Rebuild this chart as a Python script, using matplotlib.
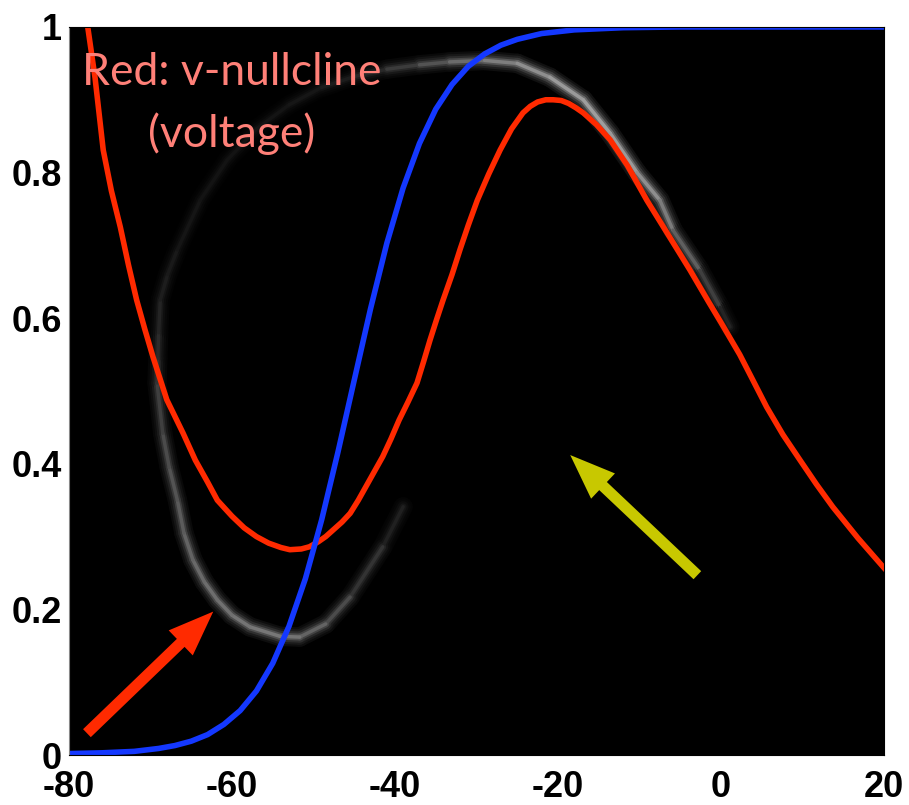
import matplotlib.pyplot as plt
import numpy as np
from matplotlib.collections import LineCollection
from matplotlib.patches import FancyArrowPatch

# blue curve
blue_v = [-80, -76, -72, -69, -67, -65, -63, -61, -59, -57, -55, -53, -51, -49,
          -47, -45, -43, -41, -39, -37, -35, -33, -31, -29, -27, -25, -22, -18,
          -12, -5, 5, 20]
blue_w = [0.002, 0.003, 0.005, 0.009, 0.013, 0.019, 0.028, 0.042, 0.061, 0.088,
          0.126, 0.177, 0.242, 0.323, 0.416, 0.515, 0.613, 0.703, 0.779, 0.840,
          0.887, 0.921, 0.946, 0.963, 0.975, 0.983, 0.991, 0.996, 0.999, 1.0,
          1.0, 1.0]

# red v-nullcline
red_v = [-77.7, -76.8, -75.8, -74.8, -73.7, -72.7, -71.7, -70.7, -69.7, -68.0,
         -66.0, -64.5, -63.0, -61.8, -60.0, -58.5, -57.0, -55.5, -54.0, -52.9,
         -51.5, -50.5, -49.4, -48.5, -47.5, -46.5, -45.5, -44.5, -43.5, -42.5,
         -41.5, -40.5, -39.5, -38.4, -37.3, -36.5, -35.7, -34.9, -34.1, -33.0,
         -32.0, -31.0, -29.9, -28.5, -27.1, -25.7, -24.3, -23.4, -22.5, -21.5,
         -20.6, -19.6, -18.7, -17.8, -16.9, -15.3, -13.6, -11.5, -9.1, -6.5,
         -3.8, -1.5, 0.0, 2.3, 4.0, 5.6, 7.6, 9.7, 11.7, 13.7, 16.8, 20.0]
red_w = [1.0, 0.93, 0.831, 0.775, 0.725, 0.673, 0.625, 0.585, 0.547, 0.488,
         0.442, 0.405, 0.375, 0.35, 0.328, 0.312, 0.300, 0.291, 0.285, 0.282,
         0.283, 0.286, 0.293, 0.300, 0.31, 0.32, 0.332, 0.35, 0.37, 0.39,
         0.41, 0.434, 0.46, 0.485, 0.511, 0.54, 0.57, 0.598, 0.625, 0.66,
         0.695, 0.728, 0.762, 0.798, 0.831, 0.86, 0.882, 0.891, 0.897, 0.90,
         0.90, 0.899, 0.895, 0.889, 0.882, 0.866, 0.845, 0.81, 0.762, 0.715,
         0.666, 0.622, 0.594, 0.55, 0.513, 0.478, 0.44, 0.405, 0.372, 0.341,
         0.298, 0.257]

# grey trajectory (limit cycle)
traj_v = [-39.0, -41.5, -45.5, -48.5, -51.7, -54.1, -57.8, -60.0, -61.8, -63.4,
          -64.8, -65.9, -66.7, -67.7, -68.5, -69.2, -69.1, -69.0, -68.8, -67.9,
          -66.7, -63.9, -60.6, -57.0, -53.0, -49.0, -45.0, -41.0, -37.0, -33.3,
          -29.0, -25.0, -21.0, -16.9, -13.6, -10.3, -7.5, -5.9, -2.6, -0.1, 1.1]
traj_w = [0.341, 0.286, 0.217, 0.180, 0.162, 0.163, 0.176, 0.192, 0.213, 0.238,
          0.268, 0.305, 0.350, 0.395, 0.442, 0.511, 0.545, 0.580, 0.625, 0.660,
          0.694, 0.762, 0.817, 0.860, 0.893, 0.917, 0.932, 0.942, 0.948, 0.952,
          0.954, 0.950, 0.931, 0.900, 0.854, 0.800, 0.762, 0.721, 0.666, 0.615,
          0.588]
# brightness of the blur along the trajectory
glow = [0.15, 0.25, 0.4, 0.55, 0.7, 0.75, 0.75, 0.72, 0.7, 0.68,
        0.65, 0.6, 0.55, 0.5, 0.45, 0.35, 0.3, 0.25, 0.2, 0.17,
        0.15, 0.12, 0.12, 0.12, 0.13, 0.15, 0.2, 0.3, 0.45, 0.6,
        0.75, 0.85, 0.95, 1.0, 1.0, 0.95, 0.85, 0.7, 0.5, 0.3, 0.15]

fig = plt.figure(figsize=(9.09, 8.05), dpi=100)
ax = fig.add_axes([0.0759, 0.0621, 0.8966, 0.9044])
ax.set_facecolor('black')

pts = np.column_stack([traj_v, traj_w])
segs = np.stack([pts[:-1], pts[1:]], axis=1)
g = np.array(glow)
gs = (g[:-1] + g[1:]) / 2
for lw, lev in [(14, 0.07), (11, 0.14), (8, 0.25), (5, 0.42), (2.5, 0.62)]:
    cols = np.ones((len(gs), 4))
    cols[:, :3] = (lev * gs)[:, None]
    ax.add_collection(LineCollection(segs, colors=cols, linewidths=lw,
                                     capstyle='round', joinstyle='round'))

ax.plot(red_v, red_w, color='#ff2a00', lw=4, solid_joinstyle='round')
ax.plot(blue_v, blue_w, color='#1438ff', lw=4, solid_joinstyle='round')

for tail, tip, col in [((-77.8, 0.03), (-62.3, 0.197), '#ff2a00'),
                       ((-2.9, 0.247), (-18.5, 0.412), '#c8c800')]:
    ax.add_patch(FancyArrowPatch(tail, tip, arrowstyle='simple,head_length=1.3,head_width=1.0,tail_width=0.32',
                                 mutation_scale=25, color=col, shrinkA=0, shrinkB=0, lw=0))

ax.text(-60, 0.937, 'Red: v-nullcline', color='#ff8078', fontsize=32,
        family='Lato', ha='center', va='center')
ax.text(-60, 0.854, '(voltage)', color='#ff8078', fontsize=32,
        family='Lato', ha='center', va='center')

ax.set_xlim(-80, 20)
ax.set_ylim(0, 1)
ax.set_xticks([-80, -60, -40, -20, 0, 20])
ax.set_xticklabels(['-80', '-60', '-40', '-20', '0', '20'])
ax.set_yticks([0, 0.2, 0.4, 0.6, 0.8, 1])
ax.set_yticklabels(['0', '0.2', '0.4', '0.6', '0.8', '1'])
ax.tick_params(length=0, labelsize=26)
ax.tick_params(axis='x', pad=11)
ax.tick_params(axis='y', pad=5)
for lab in ax.get_xticklabels() + ax.get_yticklabels():
    lab.set_fontfamily('Liberation Sans')
    lab.set_fontweight('bold')
for s in ax.spines.values():
    s.set_color('black')
ax.spines['left'].set_color('#888888')

fig.savefig('out.png')
